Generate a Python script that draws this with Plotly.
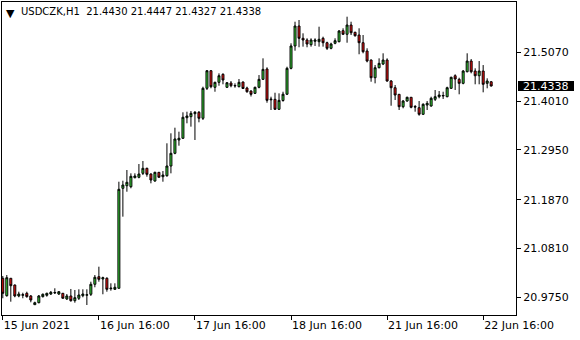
import plotly.graph_objects as go

symbol = "USDCZK,H1"

opens = [21.0163, 20.9785, 21.0163, 21.0017, 20.9779, 20.9794, 20.9837, 20.9779, 20.9590, 20.9633,
         20.9764, 20.9794, 20.9822, 20.9844, 20.9822, 20.9837, 20.9714, 20.9779, 20.9677, 20.9729,
         20.9785, 20.9796, 20.9816, 21.0033, 21.0198, 21.0148, 21.0163, 20.9952, 20.9924, 20.9946,
         21.2117, 21.2173, 21.2152, 21.2347, 21.2356, 21.2442, 21.2551, 21.2427, 21.2275, 21.2464,
         21.2369, 21.2390, 21.2601, 21.2877, 21.3166, 21.3203, 21.3650, 21.3672, 21.3737, 21.3767,
         21.3637, 21.4288, 21.4670, 21.4310, 21.4418, 21.4592, 21.4310, 21.4403, 21.4338, 21.4323,
         21.4425, 21.4294, 21.4229, 21.4179, 21.4310, 21.4483, 21.4707, 21.4056, 21.4049, 21.3832,
         21.4023, 21.4160, 21.4722, 21.5207, 21.5641, 21.5374, 21.5337, 21.5235, 21.5309, 21.5300,
         21.5374, 21.5278, 21.5157, 21.5265, 21.5300, 21.5539, 21.5461, 21.5662, 21.5504, 21.5445,
         21.5278, 21.5098, 21.4902, 21.4518, 21.4735, 21.4815, 21.4902, 21.4446, 21.4301, 21.4158,
         21.3889, 21.4012, 21.4093, 21.3893, 21.3867, 21.3724, 21.3925, 21.3904, 21.4049, 21.4106,
         21.4121, 21.4106, 21.4288, 21.4561, 21.4483, 21.4396, 21.4648, 21.4880, 21.4663, 21.4561,
         21.4663, 21.4396, 21.4430]
highs = [21.0213, 21.0234, 21.0170, 21.0028, 20.9872, 20.9850, 20.9872, 20.9800, 20.9655, 20.9800,
         20.9833, 20.9850, 20.9887, 20.9946, 20.9887, 20.9844, 20.9822, 20.9931, 20.9909, 20.9924,
         20.9924, 20.9924, 21.0089, 21.0234, 21.0415, 21.0198, 21.0185, 21.0054, 21.0054, 21.2260,
         21.2282, 21.2514, 21.2442, 21.2442, 21.2644, 21.2709, 21.2564, 21.2442, 21.2477, 21.2471,
         21.2492, 21.3094, 21.3311, 21.3433, 21.3346, 21.3767, 21.3780, 21.3795, 21.3795, 21.3795,
         21.4323, 21.4685, 21.4685, 21.4431, 21.4613, 21.4613, 21.4425, 21.4446, 21.4396, 21.4490,
         21.4435, 21.4323, 21.4244, 21.4323, 21.4576, 21.4939, 21.4744, 21.4106, 21.4192, 21.4179,
         21.4214, 21.4757, 21.5265, 21.5734, 21.5771, 21.5482, 21.5374, 21.5374, 21.5374, 21.5626,
         21.5409, 21.5300, 21.5278, 21.5374, 21.5554, 21.5591, 21.5843, 21.5734, 21.5517, 21.5591,
         21.5445, 21.5157, 21.4913, 21.4793, 21.4939, 21.5048, 21.4939, 21.4468, 21.4359, 21.4164,
         21.4034, 21.4106, 21.4099, 21.3925, 21.4012, 21.3962, 21.4012, 21.4106, 21.4251, 21.4229,
         21.4214, 21.4323, 21.4540, 21.4592, 21.4518, 21.4685, 21.5048, 21.4924, 21.4722, 21.4880,
         21.4793, 21.4505, 21.4447]
lows = [20.9729, 20.9764, 20.9655, 20.9751, 20.9751, 20.9729, 20.9742, 20.9642, 20.9583, 20.9620,
        20.9746, 20.9764, 20.9800, 20.9822, 20.9800, 20.9720, 20.9692, 20.9655, 20.9633, 20.9692,
        20.9751, 20.9583, 20.9779, 20.9968, 21.0089, 20.9816, 20.9872, 20.9894, 20.9909, 20.9939,
        21.1501, 21.2043, 21.2117, 21.2334, 21.2334, 21.2405, 21.2369, 21.2225, 21.2260, 21.2347,
        21.2260, 21.2369, 21.2442, 21.2856, 21.3042, 21.3188, 21.3528, 21.3455, 21.3166, 21.3550,
        21.3600, 21.4251, 21.4288, 21.4214, 21.4344, 21.4375, 21.4294, 21.4310, 21.4301, 21.4310,
        21.4273, 21.4192, 21.4110, 21.4164, 21.4288, 21.4468, 21.3975, 21.3817, 21.3817, 21.3817,
        21.3997, 21.4142, 21.4700, 21.5105, 21.5179, 21.5192, 21.5179, 21.5192, 21.5207, 21.5192,
        21.5192, 21.5120, 21.5135, 21.5244, 21.5287, 21.5445, 21.5278, 21.5445, 21.5409, 21.5027,
        21.5048, 21.4852, 21.4431, 21.4396, 21.4722, 21.4793, 21.4431, 21.3910, 21.4034, 21.3817,
        21.3854, 21.3997, 21.3854, 21.3780, 21.3693, 21.3708, 21.3817, 21.3889, 21.4012, 21.4071,
        21.4056, 21.4093, 21.4273, 21.4251, 21.4158, 21.4375, 21.4635, 21.4613, 21.4375, 21.4375,
        21.4201, 21.4288, 21.4327]
closes = [20.9837, 21.0176, 21.0002, 20.9779, 20.9822, 20.9807, 20.9764, 20.9692, 20.9633, 20.9779,
          20.9816, 20.9837, 20.9859, 20.9855, 20.9872, 20.9729, 20.9779, 20.9677, 20.9742, 20.9800,
          20.9822, 20.9805, 21.0033, 21.0185, 21.0141, 21.0176, 20.9924, 20.9939, 20.9968, 21.2095,
          21.2188, 21.2247, 21.2377, 21.2384, 21.2427, 21.2551, 21.2420, 21.2297, 21.2464, 21.2356,
          21.2405, 21.2601, 21.2877, 21.3188, 21.3203, 21.3659, 21.3687, 21.3745, 21.3767, 21.3637,
          21.4288, 21.4670, 21.4323, 21.4418, 21.4561, 21.4468, 21.4409, 21.4344, 21.4349, 21.4418,
          21.4284, 21.4214, 21.4158, 21.4310, 21.4483, 21.4700, 21.4027, 21.4041, 21.3832, 21.4027,
          21.4160, 21.4722, 21.5207, 21.5641, 21.5374, 21.5337, 21.5250, 21.5337, 21.5337, 21.5352,
          21.5278, 21.5157, 21.5250, 21.5322, 21.5532, 21.5461, 21.5662, 21.5495, 21.5430, 21.5278,
          21.5083, 21.4880, 21.4518, 21.4735, 21.4830, 21.4902, 21.4446, 21.4301, 21.4142, 21.3889,
          21.4012, 21.4093, 21.3876, 21.3882, 21.3724, 21.3941, 21.3962, 21.4071, 21.4106, 21.4142,
          21.4132, 21.4301, 21.4527, 21.4490, 21.4396, 21.4663, 21.4880, 21.4648, 21.4561, 21.4663,
          21.4375, 21.4446, 21.4338]

bar_index = list(range(len(opens)))

time_tick_bars = [0, 24, 48, 72, 96, 120]
time_tick_labels = ["15 Jun 2021", "16 Jun 16:00", "17 Jun 16:00",
                    "18 Jun 16:00", "21 Jun 16:00", "22 Jun 16:00"]
price_ticks = [20.9750, 21.0810, 21.1870, 21.2950, 21.4010, 21.5070]

FONT = "DejaVu Sans"
Y_RANGE = [20.9366, 21.6162]
PLOT_H = 313  # px height of plot area
UNIT = (Y_RANGE[1] - Y_RANGE[0]) / PLOT_H  # price per pixel

fig = go.Figure()
fig.add_trace(go.Candlestick(
    x=bar_index, open=opens, high=highs, low=lows, close=closes,
    increasing=dict(fillcolor="#3ADF3A", line=dict(color="black", width=1)),
    decreasing=dict(fillcolor="#FF1010", line=dict(color="black", width=1)),
    whiskerwidth=0, showlegend=False, hoverinfo="skip",
))

fig.update_layout(
    width=580, height=340,
    margin=dict(l=2, r=64, t=2, b=25),
    paper_bgcolor="white", plot_bgcolor="white",
    showlegend=False,
    font=dict(family=FONT, size=11, color="black"),
)
fig.update_xaxes(
    range=[-0.2, 128.2], rangeslider=dict(visible=False),
    tickmode="array", tickvals=time_tick_bars, ticktext=time_tick_labels,
    ticks="outside", ticklen=4, tickcolor="black", tickwidth=1,
    ticklabelposition="outside right",
    showgrid=False, zeroline=False,
    showline=True, linecolor="black", linewidth=1, mirror=True,
    tickfont=dict(family=FONT, size=11, color="black"),
)
fig.update_yaxes(
    range=Y_RANGE, side="right",
    tickmode="array", tickvals=price_ticks, ticktext=[f"{v:.4f}" for v in price_ticks],
    ticks="outside", ticklen=4, tickcolor="black", tickwidth=1,
    showgrid=False, zeroline=False,
    showline=True, linecolor="black", linewidth=1, mirror=True,
    tickfont=dict(family=FONT, size=11, color="black"),
)

# current price marker on the right scale
last = closes[-1]
fig.add_shape(
    type="rect", xref="paper", yref="y",
    x0=1 + 2 / 514, x1=1 + 58 / 514,
    y0=last - 5 * UNIT, y1=last + 5 * UNIT,
    fillcolor="black", line=dict(width=0), layer="above",
)
fig.add_annotation(
    xref="paper", x=1 + 30 / 514, xanchor="center",
    yref="y", y=last, yanchor="middle",
    text=f"{last:.4f}", showarrow=False, borderpad=0,
    font=dict(family=FONT, size=11, color="white"),
)

# symbol / OHLC header
fig.add_annotation(
    xref="paper", x=0, xanchor="left", xshift=3,
    yref="paper", y=1, yanchor="top", yshift=-4,
    text="\u25BC", showarrow=False, borderpad=0,
    font=dict(family=FONT, size=11, color="black"),
)
title = f"{symbol}\u00A0\u00A0{opens[-1]:.4f} {highs[-1]:.4f} {lows[-1]:.4f} {closes[-1]:.4f}"
fig.add_annotation(
    xref="paper", x=0, xanchor="left", xshift=18,
    yref="paper", y=1, yanchor="top", yshift=-3,
    text=title, showarrow=False, borderpad=0,
    font=dict(family=FONT, size=10, color="black"),
)

fig.write_html("out.html")
